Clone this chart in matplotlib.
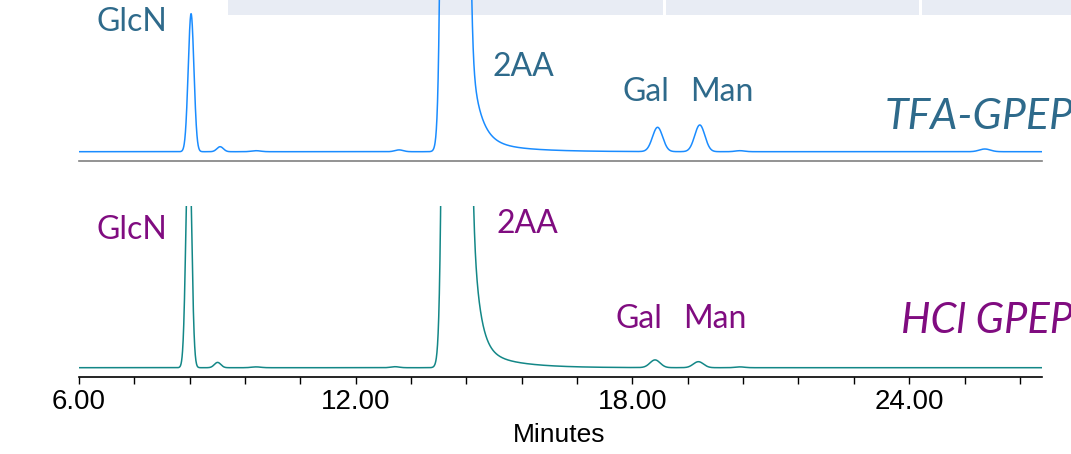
import numpy as np
import matplotlib
matplotlib.use("Agg")
import matplotlib.pyplot as plt
from matplotlib.patches import Rectangle
from matplotlib.ticker import MultipleLocator

# peak tables
# (retention time in minutes, height in detector units, peak sigma in minutes)
tfa_rt = [8.43, 9.06, 9.84, 12.94, 14.15, 18.545, 19.46, 20.33, 25.64]
tfa_height = [138, 5, 1, 1.8, 14100, 24.3, 26.7, 1, 2.7]
tfa_sigma = [0.062, 0.07, 0.1, 0.09, 0.112, 0.11, 0.11, 0.1, 0.12]
tfa_tail_amp = [470, 19]        # tailing of the 2AA peak
tfa_tail_tau = [0.20, 0.85]

hcl_rt = [8.38, 9.005, 9.84, 12.85, 14.17, 18.49, 19.43, 20.33]
hcl_height = [250, 5.3, 0.8, 1.0, 12000, 7.7, 6.0, 0.8]
hcl_sigma = [0.058, 0.07, 0.1, 0.09, 0.112, 0.11, 0.11, 0.1]
hcl_tail_amp = [1780, 34]
hcl_tail_tau = [0.147, 0.73]

tail_start = 14.15

# peak labels: (text, x in minutes, y baseline in detector units)
tfa_labels = [("GlcN", 6.39, 121), ("2AA", 14.97, 75.7), ("Gal", 17.785, 51), ("Man", 19.24, 51)]
hcl_labels = [("GlcN", 6.38, 128.4), ("2AA", 15.05, 134.4), ("Gal", 17.64, 39.4), ("Man", 19.09, 39.4)]

x_min, x_max = 6.0, 26.88
major_ticks = [6.0, 12.0, 18.0, 24.0]

TFA_LINE = "#1a8cff"
HCL_LINE = "#138787"
TFA_TEXT = "#2e6a8b"
HCL_TEXT = "#800c80"
LABEL_FONT = ["Lato", "DejaVu Sans"]


def trace(t, rts, heights, sigmas, tail_amp, tail_tau):
    y = np.zeros_like(t)
    for rt, h, s in zip(rts, heights, sigmas):
        y += h * np.exp(-0.5 * ((t - rt) / s) ** 2)
    dt = t - tail_start
    for a, tau in zip(tail_amp, tail_tau):
        y += np.where(dt > 0, a * np.exp(-np.clip(dt, 0, None) / tau), 0)
    return y


t = np.linspace(x_min, x_max, 8000)
y_tfa = trace(t, tfa_rt, tfa_height, tfa_sigma, tfa_tail_amp, tfa_tail_tau)
y_hcl = trace(t, hcl_rt, hcl_height, hcl_sigma, hcl_tail_amp, hcl_tail_tau)

W, H = 1071, 454
fig = plt.figure(figsize=(W / 100, H / 100), dpi=100)

# light header band peeking in at the top
for x0, x1 in [(228, 663), (666, 919), (922, 1071)]:
    fig.patches.append(Rectangle((x0 / W, 1 - 14.7 / H), (x1 - x0) / W, 14.7 / H + 0.01,
                                 transform=fig.transFigure, facecolor="#e8ecf4",
                                 edgecolor="none", zorder=-1))

left = 79 / W
width = (1042 - 79) / W

ax1 = fig.add_axes([left, (H - 161) / H, width, 161 / H])
ax1.patch.set_visible(False)
ax1.plot(t, y_tfa, color=TFA_LINE, lw=1.1)
ax1.set_xlim(x_min, x_max)
ax1.set_ylim(-9.3, 151.7)
for side in ["top", "left", "right"]:
    ax1.spines[side].set_visible(False)
ax1.spines["bottom"].set_color("#808080")
ax1.spines["bottom"].set_linewidth(1.2)
ax1.set_xticks([])
ax1.set_yticks([])
for txt, x, y in tfa_labels:
    ax1.text(x, y, txt, color=TFA_TEXT, fontsize=23, family=LABEL_FONT, va="baseline", clip_on=False)
ax1.text(23.47, 22.4, "TFA-GPEP", color=TFA_TEXT, fontsize=31, style="italic",
         family=LABEL_FONT, va="baseline", clip_on=False)

ax2 = fig.add_axes([left, (H - 376.7) / H, width, 170.7 / H])
ax2.patch.set_visible(False)
ax2.plot(t, y_hcl, color=HCL_LINE, lw=1.1)
ax2.set_xlim(x_min, x_max)
ax2.set_ylim(-9, 161.7)
for side in ["top", "left", "right"]:
    ax2.spines[side].set_visible(False)
ax2.spines["bottom"].set_linewidth(1.2)
ax2.set_yticks([])
ax2.xaxis.set_major_locator(MultipleLocator(6))
ax2.xaxis.set_minor_locator(MultipleLocator(1.2))
ax2.set_xticks(major_ticks)
ax2.set_xticklabels(["%.2f" % v for v in major_ticks], family=["Liberation Sans", "DejaVu Sans"], fontsize=20)
ax2.tick_params(axis="x", which="both", direction="out", length=5, width=1, pad=3.5)
for txt, x, y in hcl_labels:
    ax2.text(x, y, txt, color=HCL_TEXT, fontsize=23, family=LABEL_FONT, va="baseline", clip_on=False)
ax2.text(23.83, 35, "HCl GPEP", color=HCL_TEXT, fontsize=30, style="italic",
         family=LABEL_FONT, va="baseline", clip_on=False)

fig.text(559.5 / W, (H - 442) / H, "Minutes", ha="center", va="baseline",
         family=["Liberation Sans", "DejaVu Sans"], fontsize=19)

fig.savefig("out.png", dpi=100)
